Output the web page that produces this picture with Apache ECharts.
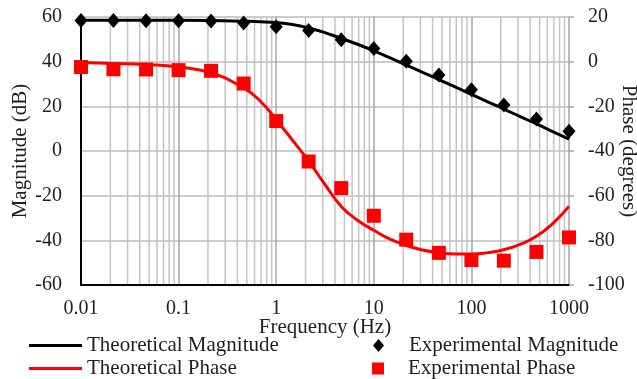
<!DOCTYPE html>
<html>
<head>
<meta charset="utf-8">
<script src="https://cdn.jsdelivr.net/npm/echarts@6/dist/echarts.min.js"></script>
<style>
  html, body { margin: 0; padding: 0; background: #ffffff; }
  #chart { width: 637px; height: 379px; }
</style>
</head>
<body>
<div id="chart"></div>
<script>
// Frequency points of the measurements (Hz), three per decade
const expFreq = [0.01, 0.0215, 0.0464, 0.1, 0.215, 0.464, 1, 2.15, 4.64, 10, 21.5, 46.4, 100, 215, 464, 1000];
// Measured magnitude (dB) and phase (degrees)
const expMagnitude = [58.4, 58.4, 58.3, 58.3, 58.2, 57.3, 55.6, 54.0, 49.8, 45.9, 40.2, 34.0, 27.4, 20.6, 14.3, 8.8];
const expPhase = [-2.4, -3.4, -3.5, -3.8, -4.1, -9.8, -26.6, -44.7, -56.6, -69.0, -79.7, -85.6, -88.8, -89.1, -85.2, -78.7];

// Model response sampled on a finer grid
const theoFreq = [0.01, 0.0215, 0.0464, 0.1, 0.215, 0.464, 0.681, 1, 1.47, 2.15, 3.16, 4.64, 6.81, 10, 14.7, 21.5, 31.6, 46.4, 68.1, 100, 147, 215, 316, 464, 681, 1000];
const theoMagnitude = [58.5, 58.5, 58.5, 58.5, 58.4, 58.1, 57.9, 57.5, 56.6, 55.1, 53.0, 50.4, 47.8, 44.8, 41.7, 38.5, 35.2, 32.0, 28.7, 25.4, 22.0, 18.8, 15.4, 12.1, 8.7, 5.3];
const theoPhase = [-0.4, -0.8, -1.3, -2.4, -5.0, -11.8, -17.5, -26.0, -35.2, -44.5, -55.0, -64.8, -71.0, -75.5, -79.5, -82.3, -84.3, -85.5, -86.1, -86.1, -85.5, -84.2, -81.8, -78.2, -72.5, -64.8];

// Axis labels
const freqTickLabels = ['0.01', '0.1', '1', '10', '100', '1000'];
const decades = [0.01, 0.1, 1, 10, 100];
const minorSteps = [2, 3, 4, 5, 6, 7, 8, 9];

const FONT = '"Liberation Serif", "Times New Roman", serif';
const TEXT = '#1f1f1f';
const FS = 20;       // tick labels
const FS_TITLE = 21; // axis names and legend

// minor log gridlines (2..9 within each decade)
const minorFreq = [];
decades.forEach(d => minorSteps.forEach(m => minorFreq.push(+(d * m).toPrecision(3))));

const pair = (xs, ys) => xs.map((x, i) => [x, ys[i]]);

const chart = echarts.init(document.getElementById('chart'), null, { renderer: 'canvas' });

const legendText = { fontFamily: FONT, fontSize: FS_TITLE, color: TEXT };
const legendBase = {
  orient: 'horizontal',
  selectedMode: false,
  padding: 0,
  textStyle: legendText,
  itemGap: 0
};

chart.setOption({
  animation: false,
  backgroundColor: '#ffffff',
  textStyle: { fontFamily: FONT },
  grid: { left: 81, right: 68, top: 17, bottom: 94, containLabel: false, outerBoundsMode: 'none' },
  legend: [
    Object.assign({}, legendBase, { data: ['Theoretical Magnitude'], left: 29, top: 335, icon: 'rect', itemWidth: 53, itemHeight: 3 }),
    Object.assign({}, legendBase, { data: ['Theoretical Phase'], left: 29, top: 358, icon: 'rect', itemWidth: 53, itemHeight: 3 }),
    Object.assign({}, legendBase, { data: ['Experimental Magnitude'], left: 373, top: 335, itemWidth: 11, itemHeight: 13,
      textStyle: Object.assign({}, legendText, { padding: [0, 0, 0, 20] }) }),
    Object.assign({}, legendBase, { data: ['Experimental Phase'], left: 372, top: 358, itemWidth: 12, itemHeight: 12,
      textStyle: Object.assign({}, legendText, { padding: [0, 0, 0, 19] }) })
  ],
  xAxis: {
    type: 'log',
    logBase: 10,
    min: 0.01,
    max: 1000,
    name: 'Frequency (Hz)',
    nameLocation: 'middle',
    nameGap: 32,
    nameMoveOverlap: false,
    nameTextStyle: { fontFamily: FONT, fontSize: FS_TITLE, color: TEXT },
    axisLine: { show: true, onZero: false, lineStyle: { color: '#000000', width: 2 } },
    axisTick: { show: false },
    axisLabel: {
      margin: 14,
      fontFamily: FONT, fontSize: FS, color: TEXT,
      formatter: (v, i) => freqTickLabels[i] !== undefined ? freqTickLabels[i] : ''
    },
    splitLine: { show: true, lineStyle: { color: '#a6a6a6', width: 1.5 } }
  },
  yAxis: [
    {
      type: 'value',
      min: -60, max: 60, interval: 20,
      name: 'Magnitude (dB)',
      nameLocation: 'middle',
      nameGap: 50,
      nameRotate: 90,
      nameMoveOverlap: false,
      nameTextStyle: { fontFamily: FONT, fontSize: FS_TITLE, color: TEXT },
      axisLine: { show: true, onZero: false, lineStyle: { color: '#000000', width: 2 } },
      axisTick: { show: false },
      axisLabel: { margin: 19, fontFamily: FONT, fontSize: FS, color: TEXT },
      splitLine: { show: true, lineStyle: { color: '#bdbdbd', width: 1.5 } }
    },
    {
      type: 'value',
      min: -100, max: 20, interval: 20,
      position: 'right',
      name: 'Phase (degrees)',
      nameLocation: 'middle',
      nameGap: 49,
      nameRotate: -90,
      nameMoveOverlap: false,
      nameTextStyle: { fontFamily: FONT, fontSize: FS_TITLE, color: TEXT },
      axisLine: { show: false },
      axisTick: { show: true, inside: false, length: 5, lineStyle: { color: '#a6a6a6', width: 1.5 } },
      axisLabel: { margin: 19, fontFamily: FONT, fontSize: FS, color: TEXT },
      splitLine: { show: false }
    }
  ],
  series: [
    {
      name: 'minor grid',
      type: 'custom',
      silent: true,
      z: 0,
      data: minorFreq.map(f => [f]),
      renderItem: (params, api) => {
        const f = api.value(0);
        const p1 = api.coord([f, 60]);
        const p2 = api.coord([f, -60]);
        return {
          type: 'line',
          shape: { x1: p1[0], y1: p1[1], x2: p2[0], y2: p2[1] },
          style: { stroke: '#c4c4c4', lineWidth: 1.5 }
        };
      }
    },
    {
      name: 'Theoretical Magnitude',
      type: 'line',
      yAxisIndex: 0,
      data: pair(theoFreq, theoMagnitude),
      smooth: true,
      symbol: 'none',
      z: 3,
      lineStyle: { color: '#000000', width: 3 },
      itemStyle: { color: '#000000' }
    },
    {
      name: 'Theoretical Phase',
      type: 'line',
      yAxisIndex: 1,
      data: pair(theoFreq, theoPhase),
      smooth: true,
      symbol: 'none',
      z: 3,
      lineStyle: { color: '#ff0000', width: 3 },
      itemStyle: { color: '#ff0000' }
    },
    {
      name: 'Experimental Magnitude',
      type: 'scatter',
      yAxisIndex: 0,
      data: pair(expFreq, expMagnitude),
      symbol: 'diamond',
      symbolSize: [13, 15],
      z: 4,
      itemStyle: { color: '#000000', opacity: 1 }
    },
    {
      name: 'Experimental Phase',
      type: 'scatter',
      yAxisIndex: 1,
      data: pair(expFreq, expPhase),
      symbol: 'rect',
      symbolSize: 14,
      z: 4,
      itemStyle: { color: '#ff0000', opacity: 1 }
    }
  ]
});
</script>
</body>
</html>
